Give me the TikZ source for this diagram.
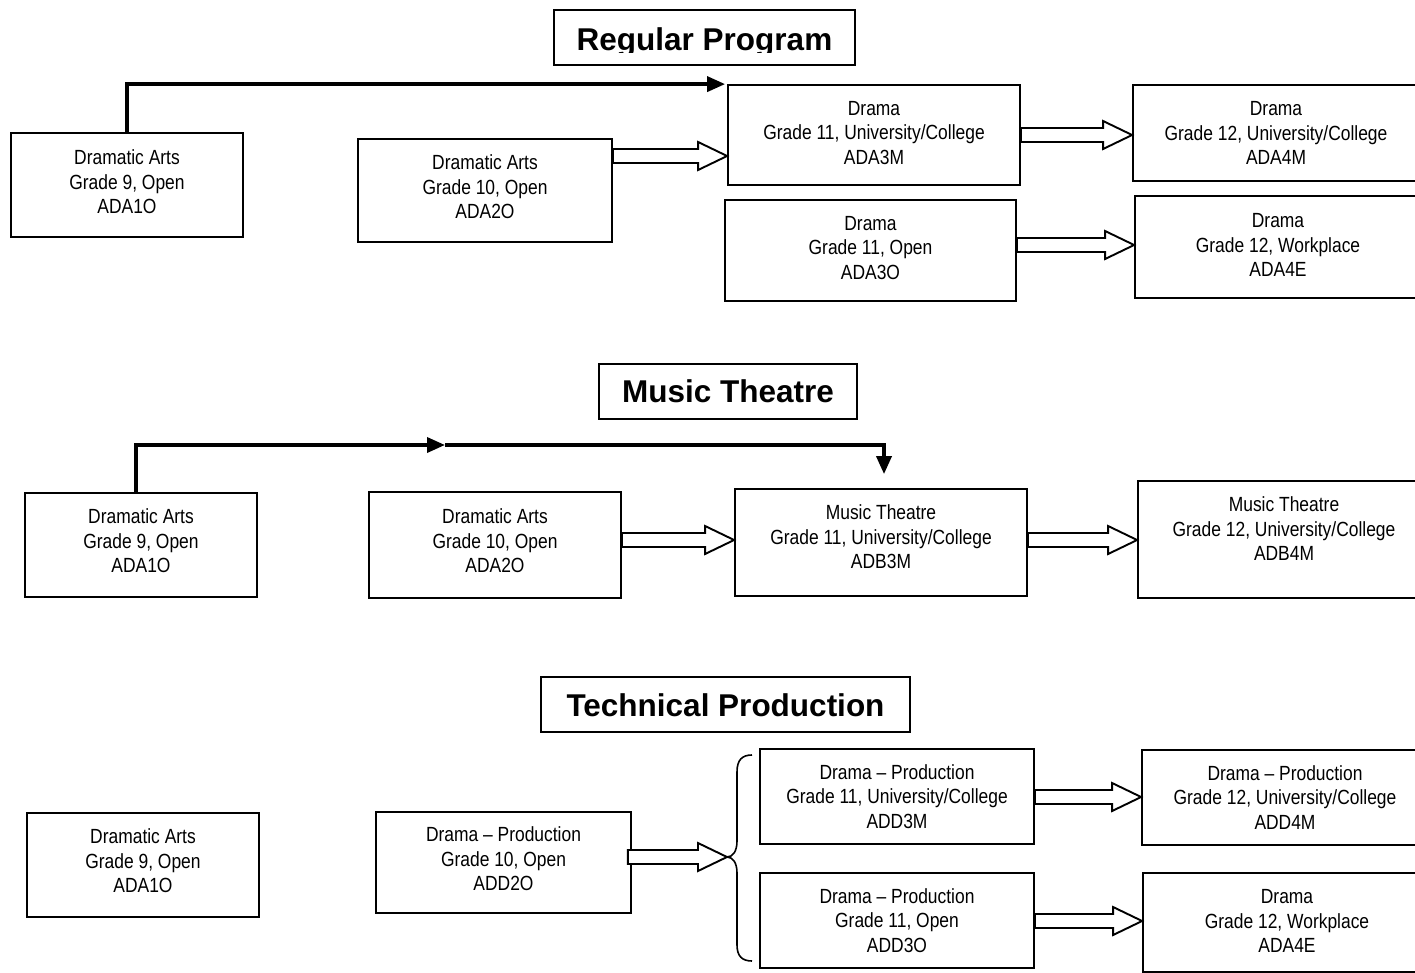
\documentclass[tikz,border=0pt]{standalone}
\usepackage{fontspec}
\setmainfont{Liberation Sans}
\newfontfamily\boxfont[FakeStretch=0.85,Ligatures=TeX]{Liberation Sans}
\usetikzlibrary{arrows.meta,calc}

% course box: name, centre x, centre y, width, height, text lift, text
\newcommand\coursebox[7]{%
  \node[box, minimum width=#4pt, minimum height=#5pt] (#1) at (#2,#3) {};
  \node[boxtext] (#1t) at ([yshift=#6pt]#1.center) {#7};}

% hollow block arrow between two points at the height of the first one
\newcommand\hollowarrow[2]{%
  \draw[hollow] let \p1=(#1), \p2=(#2) in
    (\x1,\y1+7) -- (\x2-29,\y1+7) -- (\x2-29,\y1+14) -- (\x2,\y1)
    -- (\x2-29,\y1-14) -- (\x2-29,\y1-7) -- (\x1,\y1-7) -- cycle;}

\begin{document}
\begin{tikzpicture}[x=1pt,y=-1pt,
  box/.style={draw, line width=1.8pt, inner sep=0pt},
  boxtext/.style={align=center, inner sep=0pt, font=\boxfont\fontsize{20.5}{24.5}\selectfont},
  heading/.style={draw, line width=2pt, inner sep=0pt},
  headtext/.style={inner sep=0pt, anchor=base, font=\bfseries\fontsize{31.5}{36}\selectfont},
  route/.style={line width=3.6pt, -{Triangle[length=18pt,width=15pt]}},
  hollow/.style={draw, line width=1.9pt, fill=white, line join=miter},
]
\useasboundingbox (0,0) rectangle (1415,972);

% ---------------- Regular Program ----------------
\node[heading, minimum width=301pt, minimum height=55pt] (T1) at (704.5,37.5) {};
\begin{scope}
  \clip (556,12) rectangle (853,52.5);
  \node[headtext] (T1t) at (704.5,50) {Regular Program};
\end{scope}

\coursebox{A1}{127}{185}{232}{104}{3}{Dramatic Arts\\Grade 9, Open\\ADA1O}
\coursebox{A2}{485}{190.5}{254}{103}{3.5}{Dramatic Arts\\Grade 10, Open\\ADA2O}
\coursebox{A3}{874}{135}{292}{100}{2}{Drama\\Grade 11, University/College\\ADA3M}
\coursebox{A4}{1276}{133}{286}{96}{0}{Drama\\Grade 12, University/College\\ADA4M}
\coursebox{A5}{870.5}{250.5}{291}{101}{2.5}{Drama\\Grade 11, Open\\ADA3O}
\coursebox{A6}{1278}{247}{286}{102}{2}{Drama\\Grade 12, Workplace\\ADA4E}

\draw[route] (A1.north) |- ([xshift=-2pt]A3.north west);
\hollowarrow{A2.east |- 0,156}{A3.west |- 0,156}
\hollowarrow{A3.east |- 0,135}{A4.west |- 0,135}
\hollowarrow{A5.east |- 0,245}{A6.west |- 0,245}

% ---------------- Music Theatre ----------------
\node[heading, minimum width=258pt, minimum height=55pt] (T2) at (728,391.5) {};
\node[headtext] (T2t) at (728,402) {Music Theatre};

\coursebox{B1}{141}{545}{232}{104}{4}{Dramatic Arts\\Grade 9, Open\\ADA1O}
\coursebox{B2}{495}{545}{252}{106}{4}{Dramatic Arts\\Grade 10, Open\\ADA2O}
\coursebox{B3}{881}{542.5}{292}{107}{5.5}{Music Theatre\\Grade 11, University/College\\ADB3M}
\coursebox{B4}{1284}{539.5}{292}{117}{10.5}{Music Theatre\\Grade 12, University/College\\ADB4M}

\coordinate (bend) at (445,445);
\draw[route] ([xshift=-5pt]B1.north) |- (bend);
\draw[route, shorten >=14pt] (bend) -| ([xshift=3pt]B3.north);
\hollowarrow{B2.east |- 0,540}{B3.west |- 0,540}
\hollowarrow{B3.east |- 0,540}{B4.west |- 0,540}

% ---------------- Technical Production ----------------
\node[heading, minimum width=369pt, minimum height=55pt] (T3) at (725.5,704.5) {};
\node[headtext] (T3t) at (725.5,716) {Technical Production};

\coursebox{C1}{143}{865}{232}{104}{4}{Dramatic Arts\\Grade 9, Open\\ADA1O}
\coursebox{C2}{503.5}{862.5}{255}{101}{3.5}{Drama – Production\\Grade 10, Open\\ADD2O}
\coursebox{C3}{897}{796.5}{274}{95}{0}{Drama – Production\\Grade 11, University/College\\ADD3M}
\coursebox{C4}{1285}{797.5}{286}{95}{0}{Drama – Production\\Grade 12, University/College\\ADD4M}
\coursebox{C5}{897}{920.5}{274}{95}{0}{Drama – Production\\Grade 11, Open\\ADD3O}
\coursebox{C6}{1287}{922.5}{288}{99}{1.5}{Drama\\Grade 12, Workplace\\ADA4E}

% curly brace grouping the two Grade 11 production courses
\coordinate (brace) at (727,857);
\draw[line width=1.6pt] (752,755) .. controls (742,755) and (737,760) .. (737,772)
  -- (737,841) .. controls (737,851) and (733,857) .. (brace)
  .. controls (733,857) and (737,863) .. (737,873)
  -- (737,945) .. controls (737,956) and (742,961) .. (752,961);

\hollowarrow{[xshift=-4pt]C2.east |- 0,857}{brace}
\hollowarrow{C3.east |- 0,797}{C4.west |- 0,797}
\hollowarrow{C5.east |- 0,921}{C6.west |- 0,921}
\end{tikzpicture}
\end{document}
